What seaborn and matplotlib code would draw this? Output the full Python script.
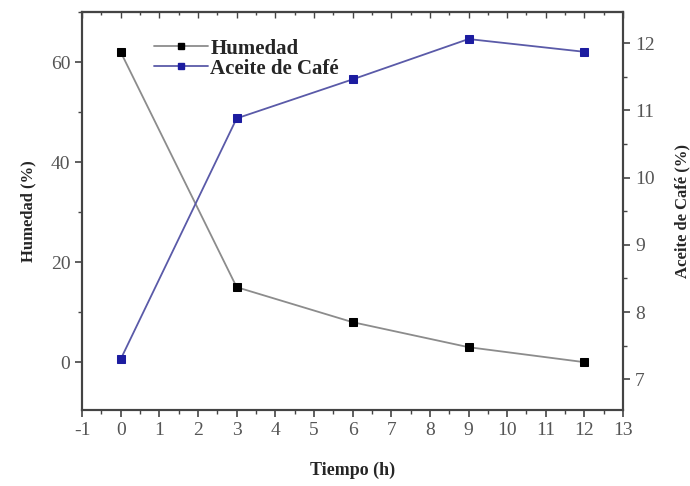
import pandas as pd
import matplotlib
matplotlib.use('Agg')
import matplotlib.pyplot as plt
import seaborn as sns
from matplotlib.ticker import MultipleLocator
from matplotlib.lines import Line2D

# Data
tiempo = [0, 3, 6, 9, 12]
humedad = [62, 15, 8, 3, 0]
aceite = [7.3, 10.88, 11.46, 12.06, 11.87]

df = pd.DataFrame({'Tiempo': tiempo, 'Humedad': humedad, 'Aceite': aceite})

sns.set_style('ticks')
plt.rcParams['font.family'] = ['Liberation Serif', 'DejaVu Serif']
plt.rcParams['axes.unicode_minus'] = False

fig = plt.figure(figsize=(6.9, 4.86), dpi=100)
ax = fig.add_axes([0.119, 0.156, 0.784, 0.819])

spine_col = '#444444'
tick_col = '#555555'

# Humedad on the left axis
sns.lineplot(data=df, x='Tiempo', y='Humedad', ax=ax, color='#8c8c8c',
             linewidth=1.3, marker='s', markersize=6,
             markerfacecolor='black', markeredgecolor='black')

# Aceite de Cafe on the right axis
ax2 = ax.twinx()
sns.lineplot(data=df, x='Tiempo', y='Aceite', ax=ax2, color='#5a5aa8',
             linewidth=1.3, marker='s', markersize=6,
             markerfacecolor='#1c1ca0', markeredgecolor='#1c1ca0')

ax.set_xlim(-1, 13)
ax.set_ylim(-9.6, 70)
ax2.set_ylim(6.54, 12.46)

ax.xaxis.set_major_locator(MultipleLocator(1))
ax.xaxis.set_minor_locator(MultipleLocator(0.5))
ax.yaxis.set_major_locator(MultipleLocator(20))
ax.yaxis.set_minor_locator(MultipleLocator(10))
ax2.yaxis.set_major_locator(MultipleLocator(1))
ax2.yaxis.set_minor_locator(MultipleLocator(0.5))

for a in (ax, ax2):
    for s in a.spines.values():
        s.set_visible(True)
        s.set_color(spine_col)
        s.set_linewidth(1.5)

ax.tick_params(axis='both', which='major', direction='out', length=5, width=1.2,
               color=spine_col, labelcolor=tick_col, labelsize=14)
ax.tick_params(axis='both', which='minor', direction='out', length=3, width=1.0,
               color=spine_col)
ax.tick_params(axis='x', which='both', top=False, labeltop=False)
ax2.tick_params(axis='y', which='major', direction='out', length=5, width=1.2,
                color=spine_col, labelcolor=tick_col, labelsize=14)
ax2.tick_params(axis='y', which='minor', direction='out', length=3, width=1.0,
                color=spine_col)

# top edge: short inward ticks, no labels
top = ax.secondary_xaxis('top')
top.xaxis.set_major_locator(MultipleLocator(1))
top.xaxis.set_minor_locator(MultipleLocator(0.5))
top.tick_params(axis='x', which='major', direction='in', length=4, width=1.0,
                color=spine_col, labeltop=False)
top.tick_params(axis='x', which='minor', direction='in', length=2.5, width=1.0,
                color=spine_col)
top.spines['top'].set_color(spine_col)
top.spines['top'].set_linewidth(1.5)

ax.set_xlabel('Tiempo (h)', fontsize=13, fontweight='bold', labelpad=16)
ax.set_ylabel('Humedad (%)', fontsize=12, fontweight='bold', labelpad=10)
ax2.set_ylabel('Aceite de Café (%)', fontsize=12, fontweight='bold', labelpad=14)

handles = [
    Line2D([], [], color='#8c8c8c', linewidth=1.3, marker='s', markersize=5,
           markerfacecolor='black', markeredgecolor='black'),
    Line2D([], [], color='#5a5aa8', linewidth=1.3, marker='s', markersize=5,
           markerfacecolor='#1c1ca0', markeredgecolor='#1c1ca0'),
]
ax.legend(handles, ['Humedad', 'Aceite de Café'], loc='upper left',
          bbox_to_anchor=(0.11, 0.965), frameon=False, handlelength=2.6,
          handletextpad=0.1, labelspacing=0.0, borderaxespad=0.2,
          prop={'family': 'Liberation Serif', 'weight': 'bold', 'size': 15})

fig.savefig('out.png', dpi=100)
